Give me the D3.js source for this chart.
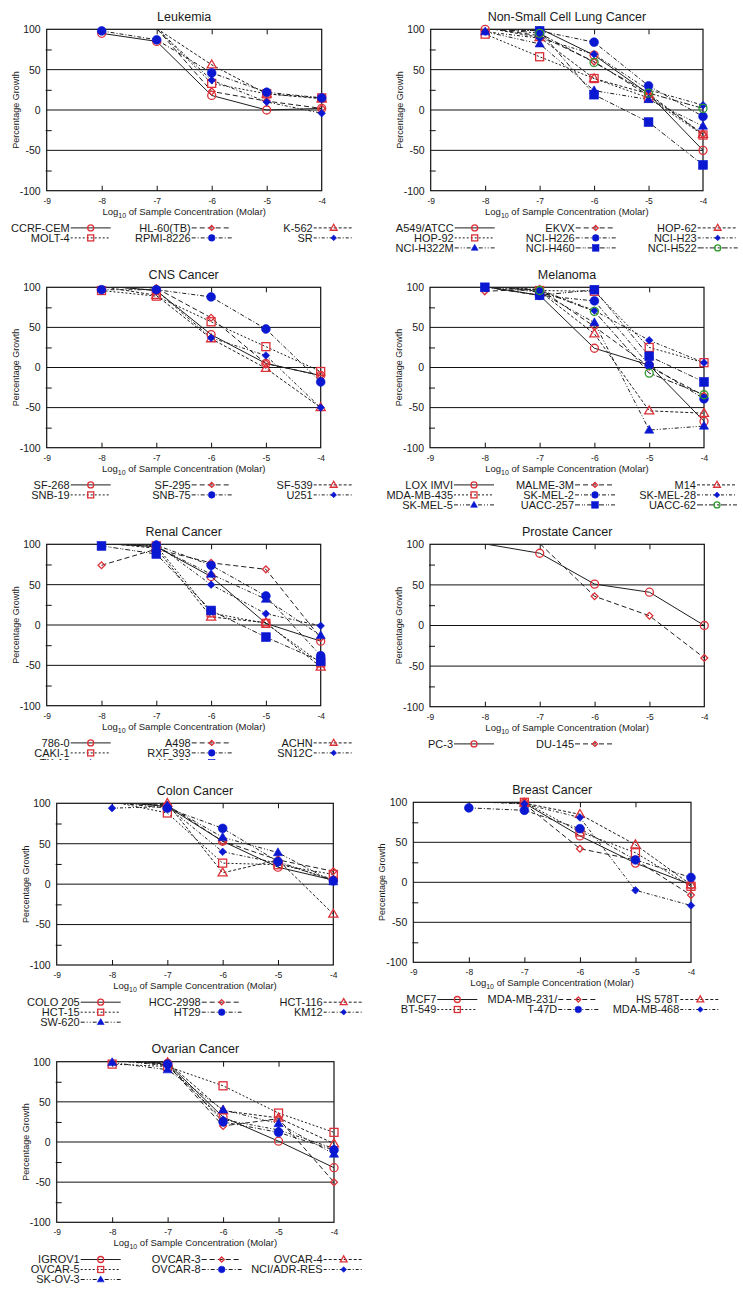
<!DOCTYPE html>
<html>
<head>
<meta charset="utf-8">
<script src="https://cdn.jsdelivr.net/npm/d3@7"></script>
<style>
body { margin: 0; background: #fff; }
text { font-family: "Liberation Sans", Arial, sans-serif; fill: #1a1a1a; }
</style>
</head>
<body>
<script>
var width = 743, height = 1290;

// log10 molar concentrations tested
var conc = [-8, -7, -6, -5, -4];
var xTicks = [-9, -8, -7, -6, -5, -4];
var yTicks = [100, 50, 0, -50, -100];
var yMinor = [75, 25, -25, -75];
var gridLines = [50, 0, -50];

var leukemiaNames = ["CCRF-CEM", "HL-60(TB)", "K-562", "MOLT-4", "RPMI-8226", "SR"];
var leukemiaValues = [
  [95, 85, 18, 0, 2],
  [102, 101, 23, 11, 2],
  [103, 101, 56, 20, 14],
  [102, 101, 33, 20, 15],
  [98, 87, 46, 22, 15],
  [102, 101, 37, 10, -4]
];

var lungNames = ["A549/ATCC", "EKVX", "HOP-62", "HOP-92", "NCI-H226", "NCI-H23", "NCI-H322M", "NCI-H460", "NCI-H522"];
var lungValues = [
  [100, 101, 68, 20, -50],
  [102, 92, 60, 18, -30],
  [102, 90, 39, 20, -30],
  [94, 66, 39, 15, -31],
  [101, 98, 84, 30, -8],
  [97, 89, 69, 25, 6],
  [97, 82, 24, 13, -20],
  [101, 98, 19, -15, -68],
  [102, 95, 59, 21, 2]
];

var cnsNames = ["SF-268", "SF-295", "SF-539", "SNB-19", "SNB-75", "U251"];
var cnsValues = [
  [102, 96, 41, 5, -10],
  [102, 99, 62, 5, -10],
  [101, 90, 36, -1, -50],
  [96, 89, 57, 26, -5],
  [97, 97, 88, 48, -18],
  [102, 96, 37, 15, -50]
];

var melanomaNames = ["LOX IMVI", "MALME-3M", "M14", "MDA-MB-435", "SK-MEL-2", "SK-MEL-28", "SK-MEL-5", "UACC-257", "UACC-62"];
var melanomaValues = [
  [101, 90, 24, 3, -67],
  [95, 98, 51, 1, -35],
  [102, 95, 42, -54, -57],
  [102, 96, 95, 25, 6],
  [101, 90, 83, 3, -39],
  [102, 97, 71, 34, 6],
  [101, 94, 56, -78, -73],
  [100, 90, 97, 14, -18],
  [102, 96, 70, -7, -34]
];

var renalNames = ["786-0", "A498", "ACHN", "CAKI-1", "RXF 393", "SN12C", "TK-10", "UO-31"];
var renalValues = [
  [101, 97, 60, 2, -20],
  [74, 94, 77, 69, -16],
  [102, 95, 10, 3, -52],
  [102, 98, 15, 2, -47],
  [101, 99, 74, 36, -38],
  [102, 100, 50, 14, -1],
  [102, 97, 63, 32, -13],
  [98, 88, 18, -15, -45]
];

var prostateNames = ["PC-3", "DU-145"];
var prostateValues = [
  [100.5, 89, 51, 41, 0],
  [108, 101, 36, 12, -40]
];

var colonNames = ["COLO 205", "HCC-2998", "HCT-116", "HCT-15", "HT29", "KM12", "SW-620"];
var colonValues = [
  [102, 96, 53, 21, 5],
  [102, 98, 53, 30, 16],
  [102, 100, 14, 30, -37],
  [102, 88, 26, 24, 12],
  [101, 94, 69, 28, 4],
  [94, 96, 40, 26, 6],
  [102, 97, 58, 39, 3]
];

var breastNames = ["MCF7", "MDA-MB-231/", "HS 578T", "BT-549", "T-47D", "MDA-MB-468"];
var breastValues = [
  [102, 99, 58, 24, -3],
  [102, 98, 42, 28, -16],
  [102, 99, 85, 47, -3],
  [102, 100, 63, 37, -5],
  [93, 90, 67, 28, 6],
  [101, 98, 81, -10, -29]
];

var ovarianNames = ["IGROV1", "OVCAR-3", "OVCAR-4", "OVCAR-5", "OVCAR-8", "NCI/ADR-RES", "SK-OV-3"];
var ovarianValues = [
  [102, 98, 31, 1, -32],
  [102, 96, 20, 29, -50],
  [102, 99, 39, 30, -2],
  [97, 94, 70, 36, 12],
  [102, 97, 25, 12, -10],
  [102, 95, 28, 15, -8],
  [99, 90, 40, 23, -15]
];

var titles = ["Leukemia", "Non-Small Cell Lung Cancer", "CNS Cancer", "Melanoma", "Renal Cancer",
  "Prostate Cancer", "Colon Cancer", "Breast Cancer", "Ovarian Cancer"];
var allNames = [leukemiaNames, lungNames, cnsNames, melanomaNames, renalNames,
  prostateNames, colonNames, breastNames, ovarianNames];
var allValues = [leukemiaValues, lungValues, cnsValues, melanomaValues, renalValues,
  prostateValues, colonValues, breastValues, ovarianValues];

// plot boxes: left, top, right, bottom
var boxes = [
  [46.7, 29.3, 321.7, 190.7],
  [430.7, 29.3, 703, 190.7],
  [46.7, 287.3, 320.7, 447.7],
  [430, 287.3, 704, 447.7],
  [46.7, 544.3, 320.7, 705.7],
  [430, 544.3, 704.3, 706.7],
  [56.7, 803.3, 333.3, 965],
  [413.3, 802.3, 691, 962.3],
  [56.7, 1061.7, 334, 1222.3]
];

var red = "#dc3038", blue = "#0a18d2", green = "#2e9a2e";
var markerTypes = ["circle", "diamond", "triangle", "square", "circle", "diamond", "triangle", "square", "circle"];
var markerColors = [red, red, red, red, blue, blue, blue, blue, green];
var markerFilled = [false, false, false, false, true, true, true, true, false];
var dashes = ["none", "5,3", "3,2", "2,2", "4,2,1,2", "3,2,1,2", "4,2,1,2,1,2", "5,2,1,1,1,2", "6,2,2,2"];
var legendCols = [44, 165, 287];

// plain hyphen labels like the original plots
var plainFormat = function(d){ return String(d); };

var svg = d3.select("body")
.append("svg")
.attr("width", width)
.attr("height", height);

var defs = svg.append("defs");

function drawMarker(g, k, cx, cy, s){
    var t = markerTypes[k];
    var col = markerColors[k];
    var el;
    if (t == "circle"){
        el = g.append("circle").attr("cx", cx).attr("cy", cy).attr("r", (markerFilled[k] ? 4.4 : 4) * s);
    } else if (t == "square"){
        var h = (markerFilled[k] ? 4.4 : 4) * s;
        el = g.append("rect").attr("x", cx - h).attr("y", cy - h).attr("width", 2*h).attr("height", 2*h);
    } else if (t == "diamond"){
        var d = (markerFilled[k] ? 3.8 : 3.4) * s;
        el = g.append("path").attr("d", "M" + cx + "," + (cy-d) + "L" + (cx+d) + "," + cy + "L" + cx + "," + (cy+d) + "L" + (cx-d) + "," + cy + "Z");
    } else {
        var r = 4.8 * s;
        el = g.append("path").attr("d", "M" + cx + "," + (cy-r) + "L" + (cx+r*0.95) + "," + (cy+r*0.65) + "L" + (cx-r*0.95) + "," + (cy+r*0.65) + "Z");
    }
    el.attr("fill", markerFilled[k] ? col : "none")
      .attr("stroke", col)
      .attr("stroke-width", markerFilled[k] ? 0.6 : 1.3);
}

titles.forEach(function(title, p){
    var L = boxes[p][0], T = boxes[p][1], R = boxes[p][2], B = boxes[p][3];
    var x = d3.scaleLinear().domain([-9, -4]).range([L, R]);
    var y = d3.scaleLinear().domain([-100, 100]).range([B, T]);
    var names = allNames[p], values = allValues[p];

    var panel = svg.append("g");
    if (p == 4){
        // renal legend third row is covered by the colon panel
        defs.append("clipPath").attr("id", "panelClip4")
            .append("rect").attr("x", 0).attr("y", 500).attr("width", 370).attr("height", 260);
        panel.attr("clip-path", "url(#panelClip4)");
    }

    defs.append("clipPath").attr("id", "plotClip" + p)
        .append("rect").attr("x", L).attr("y", T).attr("width", R - L).attr("height", B - T);

    panel.append("text")
        .attr("x", (L + R) / 2).attr("y", T - 8.5)
        .attr("text-anchor", "middle")
        .attr("font-size", 12.5)
        .text(title);

    // grid
    panel.selectAll(".grid")
    .data(gridLines).enter().append("line")
    .attr("x1", L).attr("x2", R)
    .attr("y1", function(d){ return y(d); }).attr("y2", function(d){ return y(d); })
    .attr("stroke", "#111").attr("stroke-width", 1);

    // axes labels
    var ya = panel.append("g").attr("transform", "translate(" + L + ",0)")
        .call(d3.axisLeft(y).tickValues(yTicks).tickSize(0).tickPadding(6).tickFormat(plainFormat));
    ya.select(".domain").remove();
    ya.selectAll("text").attr("font-size", 10.5).attr("font-family", null).attr("fill", "#1a1a1a");

    var ym = panel.append("g").attr("transform", "translate(" + L + ",0)")
        .call(d3.axisLeft(y).tickValues(yMinor).tickSize(-6).tickFormat(""));
    ym.select(".domain").remove();
    ym.selectAll("line").attr("stroke", "#111").attr("transform", "translate(-1,0)");

    var xa = panel.append("g").attr("transform", "translate(0," + B + ")")
        .call(d3.axisBottom(x).tickValues(xTicks).tickSize(0).tickPadding(7).tickFormat(plainFormat));
    xa.select(".domain").remove();
    xa.selectAll("text").attr("font-size", 8.5).attr("font-family", null).attr("fill", "#1a1a1a");

    var xb = panel.append("g").attr("transform", "translate(0," + B + ")")
        .call(d3.axisBottom(x).tickValues(conc.slice(0, 4)).tickSize(-5).tickFormat(""));
    xb.select(".domain").remove();
    xb.selectAll("line").attr("stroke", "#111");
    var xt = panel.append("g").attr("transform", "translate(0," + T + ")")
        .call(d3.axisTop(x).tickValues(conc.slice(0, 4)).tickSize(-5).tickFormat(""));
    xt.select(".domain").remove();
    xt.selectAll("line").attr("stroke", "#111");

    panel.append("rect")
        .attr("x", L).attr("y", T).attr("width", R - L).attr("height", B - T)
        .attr("fill", "none").attr("stroke", "#111").attr("stroke-width", 1.2);

    var xl = panel.append("text")
        .attr("x", (L + R) / 2).attr("y", B + 24)
        .attr("text-anchor", "middle").attr("font-size", 9.5);
    xl.append("tspan").text("Log");
    xl.append("tspan").attr("dy", 3).attr("font-size", 7).text("10");
    xl.append("tspan").attr("dy", -3).text(" of Sample Concentration (Molar)");

    panel.append("text")
        .attr("transform", "translate(" + (L - 28) + "," + ((T + B) / 2) + ") rotate(-90)")
        .attr("text-anchor", "middle").attr("font-size", 9)
        .text("Percentage Growth");

    // series
    var line = d3.line()
        .x(function(d, i){ return x(conc[i]); })
        .y(function(d){ return y(d); });

    var plot = panel.append("g").attr("clip-path", "url(#plotClip" + p + ")");
    values.forEach(function(vals, k){
        plot.append("path")
            .attr("d", line(vals))
            .attr("fill", "none")
            .attr("stroke", "#1e1e1e")
            .attr("stroke-width", 1)
            .attr("stroke-dasharray", dashes[k]);
    });
    values.forEach(function(vals, k){
        vals.forEach(function(v, i){
            if (v > 100) return;
            drawMarker(panel, k, x(conc[i]), y(v), 1);
        });
    });

    // legend
    names.forEach(function(name, k){
        var mx = L + legendCols[k % 3];
        var by = B + 41 + Math.floor(k / 3) * 10;
        panel.append("text")
            .attr("x", mx - 21).attr("y", by)
            .attr("text-anchor", "end").attr("font-size", 11)
            .text(name);
        panel.append("line")
            .attr("x1", mx - 20).attr("x2", mx + 20)
            .attr("y1", by - 3.8).attr("y2", by - 3.8)
            .attr("stroke", "#1e1e1e").attr("stroke-width", 1)
            .attr("stroke-dasharray", dashes[k]);
        drawMarker(panel, k, mx, by - 3.8, 0.75);
    });
});
</script>
</body>
</html>
